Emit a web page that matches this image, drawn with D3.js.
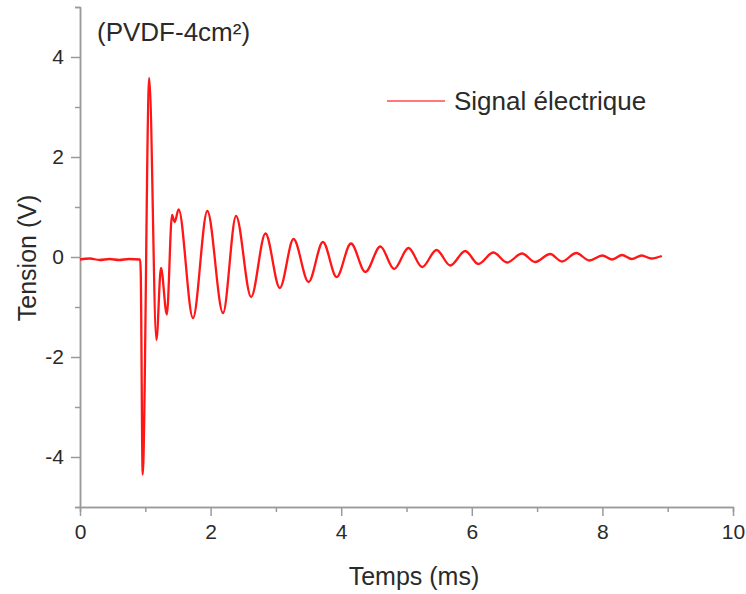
<!DOCTYPE html>
<html>
<head>
<meta charset="utf-8">
<script src="https://cdn.jsdelivr.net/npm/d3@7"></script>
<style>
    body { margin: 0; background: #fff; }
    svg text { font-family: "Liberation Sans", Arial, sans-serif; fill: #2a2a2a; }
</style>
</head>
<body>
<svg id="chart" width="746" height="594"></svg>
<script>
// signal: time in ms, voltage in V (peaks, troughs and a few in between)
var times = [0, 0.15, 0.3, 0.45, 0.6, 0.75, 0.92, 0.93, 0.96, 1.06, 1.17, 1.24, 1.33, 1.41, 1.45, 1.51,
    1.73, 1.95, 2.19, 2.39, 2.62, 2.84, 3.06, 3.27, 3.5, 3.72, 3.93, 4.15, 4.37, 4.6, 4.81, 5.03,
    5.24, 5.46, 5.67, 5.9, 6.1, 6.33, 6.54, 6.77, 6.97, 7.2, 7.38, 7.6, 7.8, 8.0, 8.15, 8.3, 8.45,
    8.6, 8.75, 8.91];
var tension = [-0.05, -0.03, -0.06, -0.04, -0.06, -0.04, -0.05, -0.3, -4.35, 3.58, -1.66, -0.22, -1.15, 0.84, 0.7, 0.95,
    -1.22, 0.92, -1.12, 0.82, -0.8, 0.47, -0.62, 0.36, -0.5, 0.3, -0.4, 0.27, -0.3, 0.21, -0.24, 0.18,
    -0.2, 0.14, -0.17, 0.12, -0.14, 0.09, -0.11, 0.07, -0.1, 0.06, -0.09, 0.08, -0.07, 0.03, -0.05, 0.04, -0.04,
    0.03, -0.03, 0.02];

var xMajor = [0, 2, 4, 6, 8, 10];
var xMinor = [1, 3, 5, 7, 9];
var yMajor = [-4, -2, 0, 2, 4];
var yMinor = [-5, -3, -1, 1, 3, 5];

var svg = d3.select("#chart");
var plotLeft = 80, plotRight = 733, plotTop = 7, plotBottom = 507;

var x = d3.scaleLinear().domain([0, 10]).range([plotLeft, plotRight]);
var y = d3.scaleLinear().domain([-5, 5]).range([plotBottom, plotTop]);

var axisColor = "#9a9a9a";

// minor ticks first, then major axes on top
var xMinorAxis = svg.append("g")
    .attr("transform", "translate(0," + plotBottom + ")")
    .call(d3.axisBottom(x).tickValues(xMinor).tickSize(5).tickFormat(""));
var yMinorAxis = svg.append("g")
    .attr("transform", "translate(" + plotLeft + ",0)")
    .call(d3.axisLeft(y).tickValues(yMinor).tickSize(5).tickFormat(""));

var xAxis = svg.append("g")
    .attr("transform", "translate(0," + plotBottom + ")")
    .call(d3.axisBottom(x).tickValues(xMajor).tickSize(9).tickSizeOuter(0).tickPadding(8));
var yAxis = svg.append("g")
    .attr("transform", "translate(" + plotLeft + ",0)")
    .call(d3.axisLeft(y).tickValues(yMajor).tickSize(9).tickSizeOuter(0).tickPadding(7)
        .tickFormat(function (d) { return d < 0 ? "-" + Math.abs(d) : d; }));

[xMinorAxis, yMinorAxis, xAxis, yAxis].forEach(function (g) {
    g.selectAll("path, line").attr("stroke", axisColor).attr("stroke-width", 1.5);
    g.selectAll("text").attr("font-size", 21).attr("fill", "#2a2a2a")
        .style("font-family", "'Liberation Sans', Arial, sans-serif");
});

// signal
var line = d3.line()
    .x(function (d, i) { return x(times[i]); })
    .y(function (d) { return y(d); })
    .curve(d3.curveMonotoneX);

svg.append("path")
    .datum(tension)
    .attr("fill", "none")
    .attr("stroke", "#ff1616")
    .attr("stroke-width", 2.3)
    .attr("stroke-linejoin", "round")
    .attr("d", line);

// labels
svg.append("text")
    .attr("x", 97).attr("y", 41)
    .attr("font-size", 26)
    .text("(PVDF-4cm²)");

svg.append("line")
    .attr("x1", 387).attr("x2", 445)
    .attr("y1", 101).attr("y2", 101)
    .attr("stroke", "#ff4a4a").attr("stroke-width", 1.5);
svg.append("text")
    .attr("x", 454).attr("y", 110)
    .attr("font-size", 26)
    .text("Signal électrique");

svg.append("text")
    .attr("x", 414).attr("y", 585)
    .attr("text-anchor", "middle")
    .attr("font-size", 25)
    .text("Temps (ms)");

svg.append("text")
    .attr("transform", "translate(36,258) rotate(-90)")
    .attr("text-anchor", "middle")
    .attr("font-size", 25)
    .text("Tension (V)");
</script>
</body>
</html>
